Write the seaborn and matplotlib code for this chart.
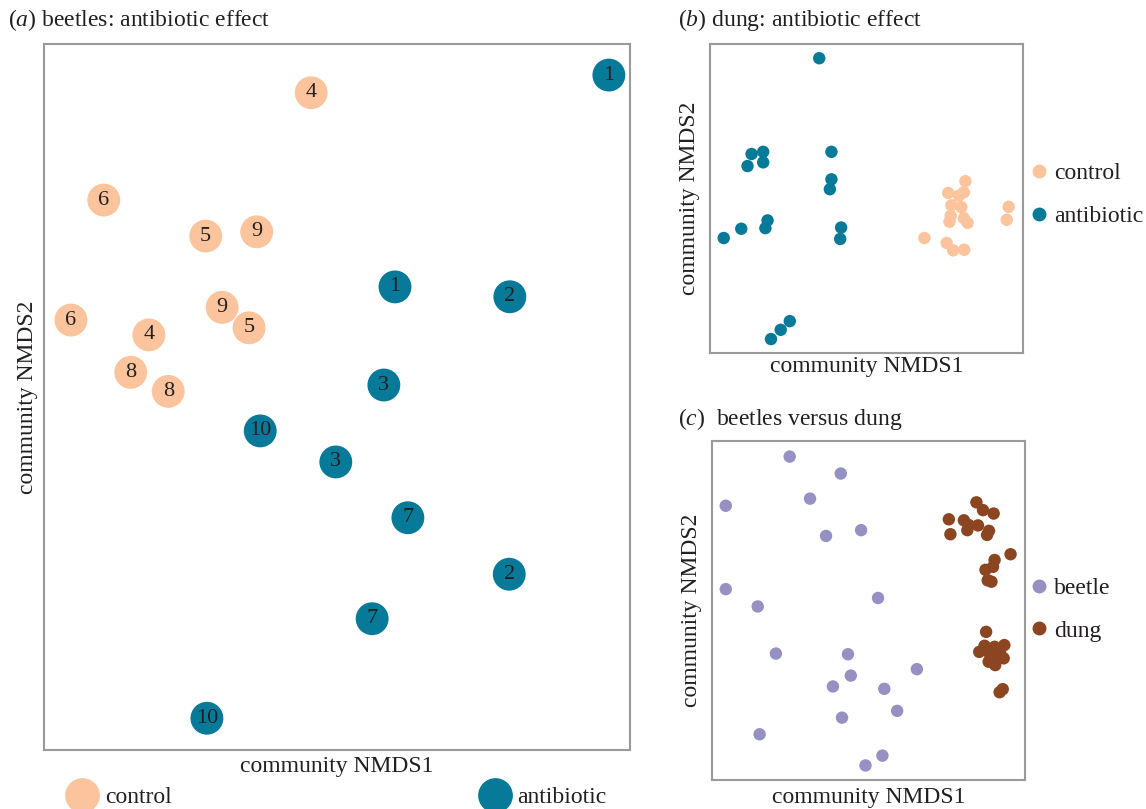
import matplotlib
matplotlib.use("Agg")
import matplotlib.pyplot as plt
from matplotlib.lines import Line2D
import seaborn as sns
import pandas as pd

# (a) beetles: NMDS scores per sample, labelled by replicate number
beetle_ctrl_x = [0.456, 0.102, 0.276, 0.363, 0.304, 0.350, 0.046, 0.179, 0.148, 0.212]
beetle_ctrl_y = [0.931, 0.779, 0.728, 0.734, 0.627, 0.598, 0.609, 0.588, 0.535, 0.508]
beetle_ctrl_id = ["4", "6", "5", "9", "9", "5", "6", "4", "8", "8"]
beetle_abx_x = [0.964, 0.599, 0.795, 0.580, 0.369, 0.498, 0.621, 0.794, 0.560, 0.278]
beetle_abx_y = [0.956, 0.656, 0.642, 0.517, 0.452, 0.408, 0.329, 0.249, 0.186, 0.045]
beetle_abx_id = ["1", "1", "2", "3", "10", "3", "7", "2", "7", "10"]

# (b) dung: antibiotic effect
dung_abx_x = [0.349, 0.133, 0.170, 0.120, 0.170, 0.388, 0.388, 0.383, 0.184,
              0.177, 0.100, 0.044, 0.419, 0.416, 0.255, 0.226, 0.195]
dung_abx_y = [0.954, 0.644, 0.651, 0.605, 0.617, 0.651, 0.562, 0.530, 0.429,
              0.404, 0.402, 0.372, 0.406, 0.369, 0.103, 0.075, 0.045]
dung_ctrl_x = [0.816, 0.761, 0.795, 0.811, 0.771, 0.803, 0.769, 0.765, 0.811,
               0.823, 0.954, 0.948, 0.685, 0.756, 0.777, 0.812]
dung_ctrl_y = [0.556, 0.518, 0.509, 0.520, 0.478, 0.472, 0.444, 0.425, 0.436,
               0.421, 0.473, 0.431, 0.372, 0.356, 0.332, 0.334]

# (c) beetles versus dung
bvd_beetle_x = [0.249, 0.412, 0.045, 0.314, 0.365, 0.477, 0.045, 0.147, 0.531, 0.205,
                0.435, 0.444, 0.387, 0.551, 0.655, 0.592, 0.416, 0.153, 0.545, 0.491]
bvd_beetle_y = [0.954, 0.904, 0.809, 0.830, 0.720, 0.737, 0.563, 0.512, 0.537, 0.373,
                0.371, 0.308, 0.276, 0.269, 0.327, 0.204, 0.184, 0.135, 0.072, 0.043]
bvd_dung_x = [0.845, 0.866, 0.900, 0.757, 0.805, 0.821, 0.850, 0.816, 0.885, 0.879,
              0.762, 0.954, 0.903, 0.898, 0.874, 0.881, 0.893, 0.876, 0.854, 0.871,
              0.903, 0.934, 0.889, 0.921, 0.932, 0.884, 0.905, 0.900, 0.919, 0.929]
bvd_dung_y = [0.819, 0.796, 0.786, 0.769, 0.766, 0.752, 0.751, 0.737, 0.735, 0.723,
              0.725, 0.666, 0.649, 0.629, 0.620, 0.589, 0.585, 0.437, 0.378, 0.396,
              0.393, 0.398, 0.369, 0.374, 0.359, 0.349, 0.339, 0.369, 0.259, 0.268]

col_ctrl = "#fbc49c"
col_abx = "#087a99"
col_beetle = "#9591c3"
col_dung = "#8b4520"
txt_col = "#231f20"
spine_col = "#9a9a9a"

sns.set_theme(style="white")
plt.rcParams["font.family"] = ["Liberation Serif", "DejaVu Serif"]
plt.rcParams["mathtext.fontset"] = "custom"
plt.rcParams["mathtext.rm"] = "Liberation Serif"
plt.rcParams["mathtext.it"] = "Liberation Serif:italic"
plt.rcParams["text.color"] = txt_col
plt.rcParams["axes.labelcolor"] = txt_col

fs = 17


def style_axes(ax, xpad, ypad):
    ax.set_xlim(0, 1)
    ax.set_ylim(0, 1)
    ax.set_xticks([])
    ax.set_yticks([])
    for s in ax.spines.values():
        s.set_color(spine_col)
        s.set_linewidth(1.5)
    ax.set_xlabel("community NMDS1", fontsize=fs, labelpad=xpad)
    ax.set_ylabel("community NMDS2", fontsize=fs, labelpad=ypad)


def main():
    fig = plt.figure(figsize=(11.46, 8.09), dpi=100)
    ax_a = fig.add_axes([0.0384, 0.0729, 0.5113, 0.8727])
    ax_b = fig.add_axes([0.6195, 0.5637, 0.2732, 0.3819])
    ax_c = fig.add_axes([0.6210, 0.0358, 0.2734, 0.4191])

    # panel a
    df_a = pd.DataFrame({
        "x": beetle_ctrl_x + beetle_abx_x,
        "y": beetle_ctrl_y + beetle_abx_y,
        "id": beetle_ctrl_id + beetle_abx_id,
        "treatment": ["control"] * len(beetle_ctrl_x) + ["antibiotic"] * len(beetle_abx_x),
    })
    sns.scatterplot(data=df_a, x="x", y="y", hue="treatment",
                    palette={"control": col_ctrl, "antibiotic": col_abx},
                    s=560, edgecolor="none", linewidth=0, legend=False, ax=ax_a)
    for _, r in df_a.iterrows():
        ax_a.text(r["x"], r["y"], r["id"], ha="center", va="center",
                  fontsize=16, color=txt_col)
    style_axes(ax_a, 4, 4)
    h_a = [Line2D([], [], ls="", marker="o", ms=24, color=col_ctrl, label="control"),
           Line2D([], [], ls="", marker="o", ms=24, color=col_abx, label="antibiotic")]
    ax_a.legend(handles=h_a, loc="upper left", bbox_to_anchor=(0.035, -0.052),
                ncol=2, frameon=False, fontsize=fs, handlelength=1.5,
                handletextpad=0.2, columnspacing=12.95, borderpad=0, borderaxespad=0)

    # panel b
    df_b = pd.DataFrame({
        "x": dung_ctrl_x + dung_abx_x,
        "y": dung_ctrl_y + dung_abx_y,
        "treatment": ["control"] * len(dung_ctrl_x) + ["antibiotic"] * len(dung_abx_x),
    })
    sns.scatterplot(data=df_b, x="x", y="y", hue="treatment",
                    palette={"control": col_ctrl, "antibiotic": col_abx},
                    s=80, edgecolor="none", linewidth=0, legend=False, ax=ax_b)
    style_axes(ax_b, 2, 7)
    h_b = [Line2D([], [], ls="", marker="o", ms=9, color=col_ctrl, label="control"),
           Line2D([], [], ls="", marker="o", ms=9, color=col_abx, label="antibiotic")]
    ax_b.legend(handles=h_b, loc="center left", bbox_to_anchor=(1.013, 0.511),
                frameon=False, fontsize=fs, handlelength=1, handletextpad=0.15,
                labelspacing=0.9, borderpad=0, borderaxespad=0)

    # panel c
    df_c = pd.DataFrame({
        "x": bvd_beetle_x + bvd_dung_x,
        "y": bvd_beetle_y + bvd_dung_y,
        "sample": ["beetle"] * len(bvd_beetle_x) + ["dung"] * len(bvd_dung_x),
    })
    sns.scatterplot(data=df_c, x="x", y="y", hue="sample",
                    palette={"beetle": col_beetle, "dung": col_dung},
                    s=80, edgecolor="none", linewidth=0, legend=False, ax=ax_c)
    style_axes(ax_c, 5, 7)
    h_c = [Line2D([], [], ls="", marker="o", ms=9, color=col_beetle, label="beetle"),
           Line2D([], [], ls="", marker="o", ms=9, color=col_dung, label="dung")]
    ax_c.legend(handles=h_c, loc="center left", bbox_to_anchor=(1.007, 0.503),
                frameon=False, fontsize=fs, handlelength=1, handletextpad=0.15,
                labelspacing=0.9, borderpad=0, borderaxespad=0)

    fig.text(0.007, 0.9753, r"($\mathit{a}$) beetles: antibiotic effect",
             fontsize=fs, va="center", ha="left")
    fig.text(0.5916, 0.9753, r"($\mathit{b}$) dung: antibiotic effect",
             fontsize=fs, va="center", ha="left")
    fig.text(0.5916, 0.482, r"($\mathit{c}$)  beetles versus dung",
             fontsize=fs, va="center", ha="left")

    fig.savefig("out.png", dpi=100)


if __name__ == "__main__":
    main()
